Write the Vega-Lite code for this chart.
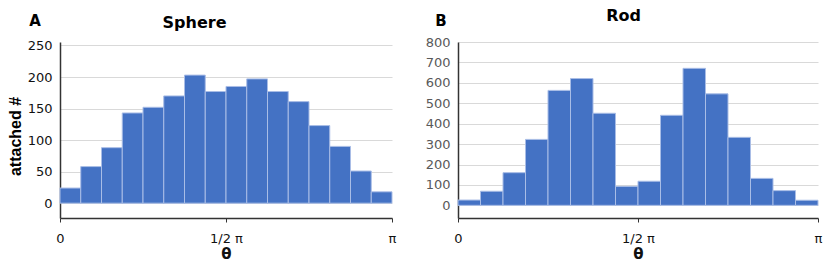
{
  "$schema": "https://vega.github.io/schema/vega-lite/v6.json",
  "padding": {"left": 7, "right": 6, "top": 8, "bottom": 1},
  "spacing": 29,
  "datasets": {
    "sphere": [
      {"theta_lo_pi": 0.0, "theta_hi_pi": 0.0625, "count": 24},
      {"theta_lo_pi": 0.0625, "theta_hi_pi": 0.125, "count": 58},
      {"theta_lo_pi": 0.125, "theta_hi_pi": 0.1875, "count": 88},
      {"theta_lo_pi": 0.1875, "theta_hi_pi": 0.25, "count": 143},
      {"theta_lo_pi": 0.25, "theta_hi_pi": 0.3125, "count": 152},
      {"theta_lo_pi": 0.3125, "theta_hi_pi": 0.375, "count": 170},
      {"theta_lo_pi": 0.375, "theta_hi_pi": 0.4375, "count": 203},
      {"theta_lo_pi": 0.4375, "theta_hi_pi": 0.5, "count": 177},
      {"theta_lo_pi": 0.5, "theta_hi_pi": 0.5625, "count": 185},
      {"theta_lo_pi": 0.5625, "theta_hi_pi": 0.625, "count": 197},
      {"theta_lo_pi": 0.625, "theta_hi_pi": 0.6875, "count": 177},
      {"theta_lo_pi": 0.6875, "theta_hi_pi": 0.75, "count": 161},
      {"theta_lo_pi": 0.75, "theta_hi_pi": 0.8125, "count": 123},
      {"theta_lo_pi": 0.8125, "theta_hi_pi": 0.875, "count": 90},
      {"theta_lo_pi": 0.875, "theta_hi_pi": 0.9375, "count": 51},
      {"theta_lo_pi": 0.9375, "theta_hi_pi": 1.0, "count": 18}
    ],
    "rod": [
      {"theta_lo_pi": 0.0, "theta_hi_pi": 0.0625, "count": 26},
      {"theta_lo_pi": 0.0625, "theta_hi_pi": 0.125, "count": 69},
      {"theta_lo_pi": 0.125, "theta_hi_pi": 0.1875, "count": 160},
      {"theta_lo_pi": 0.1875, "theta_hi_pi": 0.25, "count": 323},
      {"theta_lo_pi": 0.25, "theta_hi_pi": 0.3125, "count": 563},
      {"theta_lo_pi": 0.3125, "theta_hi_pi": 0.375, "count": 621},
      {"theta_lo_pi": 0.375, "theta_hi_pi": 0.4375, "count": 451},
      {"theta_lo_pi": 0.4375, "theta_hi_pi": 0.5, "count": 93},
      {"theta_lo_pi": 0.5, "theta_hi_pi": 0.5625, "count": 118},
      {"theta_lo_pi": 0.5625, "theta_hi_pi": 0.625, "count": 441},
      {"theta_lo_pi": 0.625, "theta_hi_pi": 0.6875, "count": 671},
      {"theta_lo_pi": 0.6875, "theta_hi_pi": 0.75, "count": 546},
      {"theta_lo_pi": 0.75, "theta_hi_pi": 0.8125, "count": 333},
      {"theta_lo_pi": 0.8125, "theta_hi_pi": 0.875, "count": 132},
      {"theta_lo_pi": 0.875, "theta_hi_pi": 0.9375, "count": 72},
      {"theta_lo_pi": 0.9375, "theta_hi_pi": 1.0, "count": 25}
    ]
  },
  "config": {
    "view": {"stroke": null},
    "font": "DejaVu Sans",
    "axis": {
      "labelFont": "DejaVu Sans",
      "labelFontSize": 13,
      "titleFont": "DejaVu Sans",
      "domainColor": "#333333",
      "domainWidth": 1.5,
      "tickColor": "#333333",
      "gridColor": "#d9d9d9",
      "gridWidth": 1
    },
    "title": {"font": "DejaVu Sans", "fontWeight": "bold", "fontSize": 16, "color": "#000000"}
  },
  "hconcat": [
    {
      "title": {"text": "A", "anchor": "start", "frame": "bounds", "offset": -14, "dx": 22, "fontSize": 15},
      "vconcat": [
        {
          "title": {"text": "Sphere", "anchor": "middle", "frame": "bounds", "offset": 8, "dx": -7},
          "width": 332,
          "height": 176,
          "data": {"name": "sphere"},
          "mark": {"type": "bar", "fill": "#4472C4", "stroke": "#a9bde6", "strokeWidth": 1},
          "encoding": {
            "x": {
              "field": "theta_lo_pi", "type": "quantitative",
              "scale": {"domain": [0, 1], "nice": false},
              "title": "θ",
              "axis": {
                "values": [0, 0.5, 1],
                "labelExpr": "datum.value == 0 ? '0' : datum.value == 0.5 ? '1/2 π' : 'π'",
                "labelFlush": false,
                "grid": false,
                "tickSize": 4,
                "labelPadding": 10,
                "labelColor": "#111111",
                "titleFontSize": 15,
                "titleFontWeight": "bold",
                "titlePadding": 1,
                "titleColor": "#111111"
              }
            },
            "x2": {"field": "theta_hi_pi"},
            "y": {
              "field": "count", "type": "quantitative",
              "scale": {"domain": [-23.5, 255.5], "nice": false, "zero": false},
              "title": "attached #",
              "axis": {
                "values": [0, 50, 100, 150, 200, 250],
                "ticks": false,
                "labelPadding": 8,
                "labelColor": "#111111",
                "titleFont": "Liberation Sans",
                "titleFontSize": 16,
                "titleFontWeight": "bold",
                "titleColor": "#000000",
                "titlePadding": 4,
                "titleY": 94
              }
            },
            "y2": {"datum": 0}
          }
        }
      ]
    },
    {
      "title": {"text": "B", "anchor": "start", "frame": "bounds", "offset": -21, "dx": 10, "fontSize": 15},
      "vconcat": [
        {
          "title": {"text": "Rod", "anchor": "middle", "frame": "bounds", "offset": 12},
          "width": 360,
          "height": 176,
          "data": {"name": "rod"},
          "mark": {"type": "bar", "fill": "#4472C4", "stroke": "#a9bde6", "strokeWidth": 1},
          "encoding": {
            "x": {
              "field": "theta_lo_pi", "type": "quantitative",
              "scale": {"domain": [0, 1], "nice": false},
              "title": "θ",
              "axis": {
                "values": [0, 0.5, 1],
                "labelExpr": "datum.value == 0 ? '0' : datum.value == 0.5 ? '1/2 π' : 'π'",
                "labelFlush": false,
                "grid": false,
                "tickSize": 4,
                "labelPadding": 10,
                "labelColor": "#111111",
                "titleFontSize": 15,
                "titleFontWeight": "bold",
                "titlePadding": 1,
                "titleColor": "#111111"
              }
            },
            "x2": {"field": "theta_hi_pi"},
            "y": {
              "field": "count", "type": "quantitative",
              "scale": {"domain": [-62, 800], "nice": false, "zero": false},
              "title": null,
              "axis": {
                "values": [0, 100, 200, 300, 400, 500, 600, 700, 800],
                "ticks": false,
                "labelPadding": 8,
                "labelColor": "#595959"
              }
            },
            "y2": {"datum": 0}
          }
        }
      ]
    }
  ]
}
